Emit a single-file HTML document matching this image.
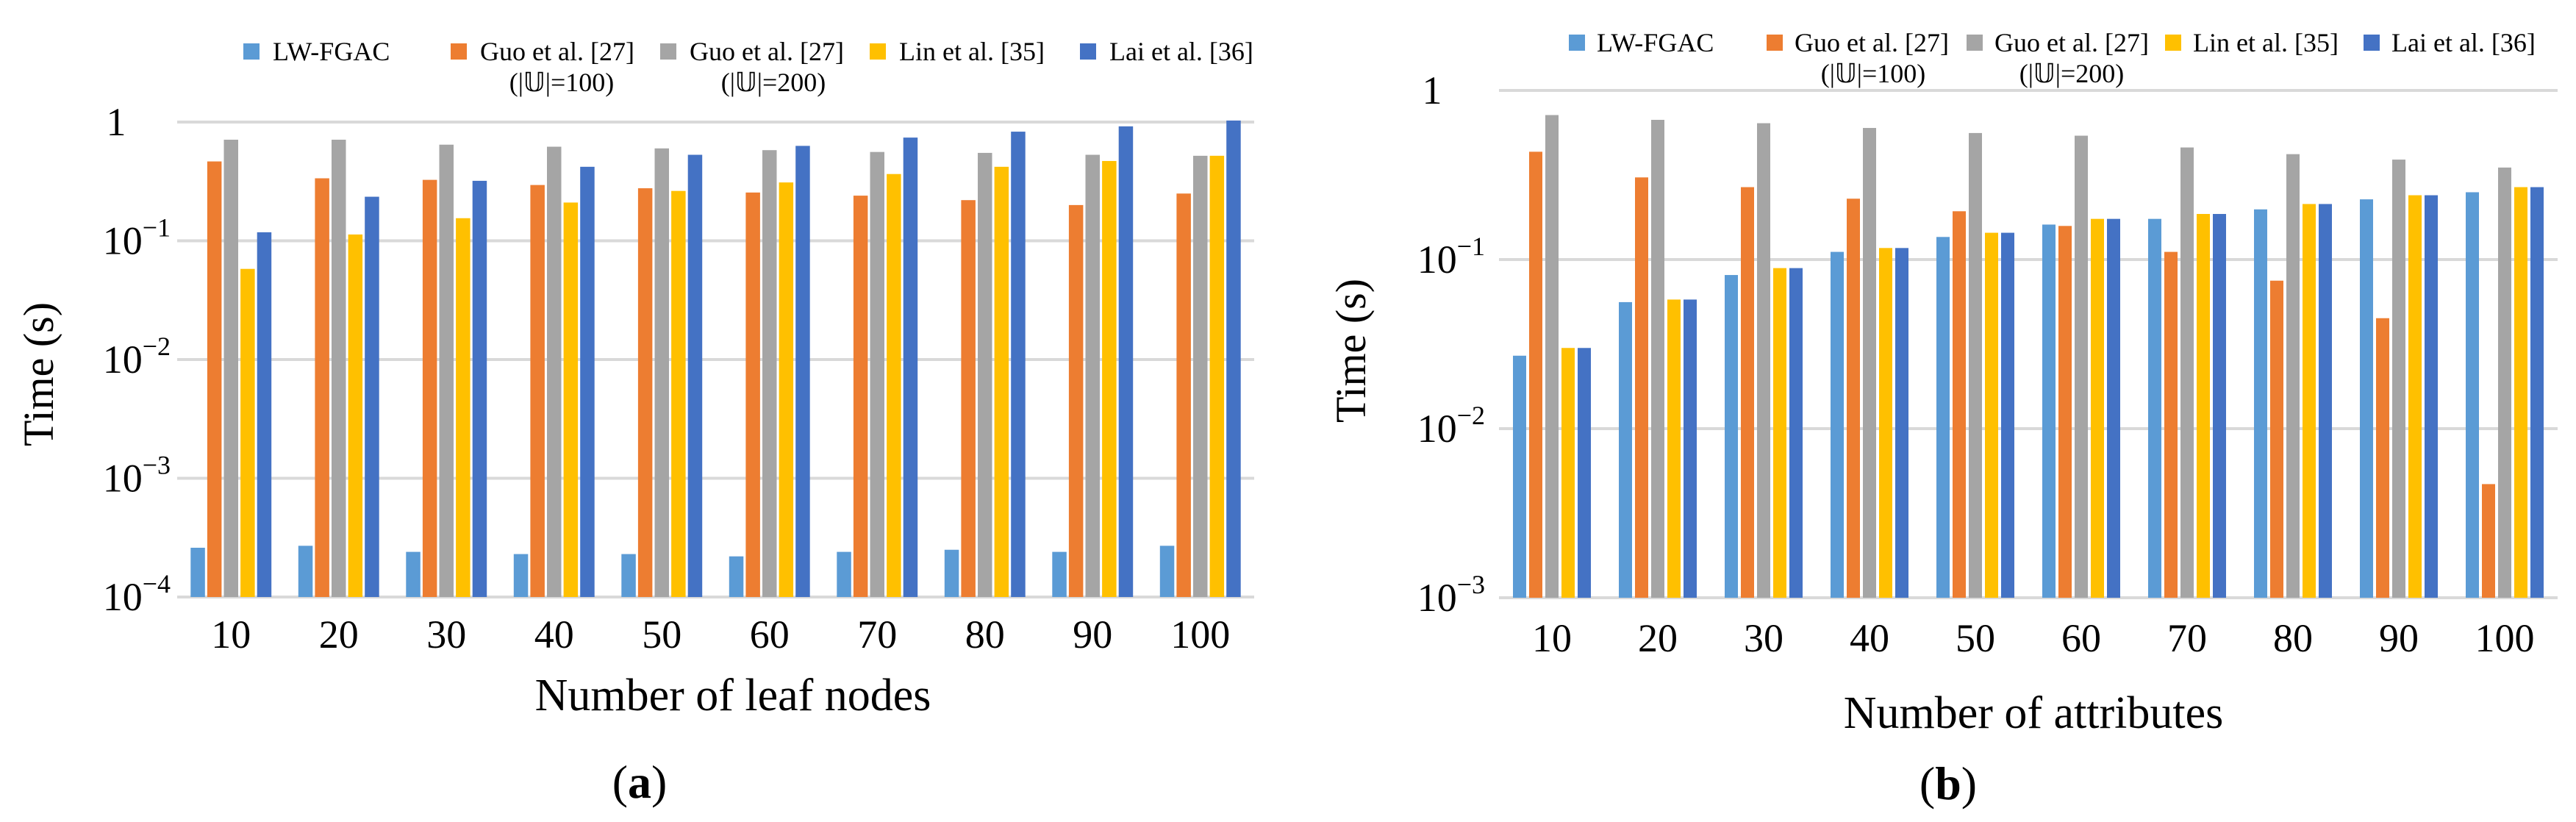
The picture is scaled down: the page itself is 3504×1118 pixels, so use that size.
<!DOCTYPE html>
<html><head><meta charset="utf-8">
<style>
html,body{margin:0;padding:0;background:#fff;}
svg{display:block;font-family:"Liberation Serif",serif;}
</style></head>
<body>
<svg id="svg" width="3504" height="1118" viewBox="0 0 3504 1118" xmlns="http://www.w3.org/2000/svg">
<g id="chartA"></g>
<g id="chartB"></g>
</svg>
<script>
const seriesNames = ["LW-FGAC","Guo et al. [27]","Guo et al. [27]","Lin et al. [35]","Lai et al. [36]"];
const seriesSub = ["","(|\u{1D54C}|=100)","(|\u{1D54C}|=200)","",""];
const colors = ["#5B9BD5","#ED7D31","#A5A5A5","#FFC000","#4472C4"];
const categories = ["10","20","30","40","50","60","70","80","90","100"];

const aLW   = [2.6e-4,2.7e-4,2.4e-4,2.3e-4,2.3e-4,2.2e-4,2.4e-4,2.5e-4,2.4e-4,2.7e-4];
const aGuo1 = [0.466,0.336,0.326,0.295,0.277,0.255,0.24,0.22,0.2,0.25];
const aGuo2 = [0.71,0.71,0.645,0.62,0.6,0.58,0.56,0.55,0.53,0.52];
const aLin  = [0.058,0.113,0.155,0.21,0.263,0.31,0.365,0.42,0.47,0.52];
const aLai  = [0.118,0.235,0.32,0.42,0.53,0.63,0.74,0.83,0.92,1.03];
const aTicks = [0,-1,-2,-3,-4];

const bLW   = [0.027,0.056,0.081,0.111,0.136,0.161,0.174,0.198,0.227,0.25];
const bGuo1 = [0.434,0.306,0.268,0.229,0.193,0.158,0.111,0.075,0.045,0.0047];
const bGuo2 = [0.715,0.67,0.64,0.60,0.56,0.54,0.46,0.42,0.39,0.35];
const bLin  = [0.030,0.058,0.089,0.117,0.144,0.174,0.186,0.213,0.24,0.268];
const bLai  = [0.030,0.058,0.089,0.117,0.144,0.174,0.186,0.213,0.24,0.268];
const bTicks = [0,-1,-2,-3];

const NS = "http://www.w3.org/2000/svg";
function mk(tag, attrs, parent){
  const e = document.createElementNS(NS, tag);
  for (const k in attrs) e.setAttribute(k, attrs[k]);
  parent.appendChild(e);
  return e;
}

function drawChart(g, cfg){
  const series = cfg.series;
  const minExp = cfg.minExp, maxExp = 0;
  const yScale = v => cfg.yBottom - (Math.log10(v) - minExp) / (maxExp - minExp) * (cfg.yBottom - cfg.yTop);
  const band = (cfg.xRight - cfg.xLeft) / categories.length;
  const xCenter = i => cfg.xLeft + band * (i + 0.5);

  // gridlines & tick labels
  cfg.ticks.forEach(t => {
    const y = yScale(Math.pow(10, t));
    const gl = mk("line", {x1: cfg.xLeft, x2: cfg.xRight, y1: y, y2: y, stroke: "#D9D9D9", "stroke-width": 4}, g);
    
    
    const tx = mk("text", {y: y + 18, "font-size": 54, fill: "#000"}, g);
    
    
    if (t === 0) {
      tx.setAttribute("x", cfg.oneX);
      tx.setAttribute("text-anchor", "middle");
      tx.textContent = "1";
    } else {
      tx.setAttribute("x", cfg.tickRight);
      tx.setAttribute("text-anchor", "end");
      const s1 = mk("tspan", {}, tx); s1.textContent = "10";
      const s2 = mk("tspan", {dy: -24, "font-size": 36}, tx); s2.textContent = "\u2212" + (-t);
    }
  });

  // bars
  series.forEach((vals, s) => {
    vals.forEach((v, i) => {
      const x = xCenter(i) - cfg.groupW / 2 + s * cfg.step;
      const y = yScale(v);
      const r = mk("rect", {x: x, y: y, width: cfg.barW, height: cfg.yBottom - y, fill: colors[s]}, g);
      
      
    });
  });

  // x tick labels
  categories.forEach((c, i) => {
    const t = mk("text", {x: xCenter(i), y: cfg.xLabelY, "font-size": 54, "text-anchor": "middle"}, g);
    
    
    t.textContent = c;
  });

  // axis titles
  const yt = mk("text", {x: 0, y: 0, "font-size": 58, "text-anchor": "middle", transform: `translate(${cfg.yTitleX},${cfg.yTitleY}) rotate(-90)`}, g);
  
  
  yt.setAttribute("xml:space", "preserve");
  yt.textContent = "Time  (s)";

  const xt = mk("text", {x: cfg.xTitleX, y: cfg.xTitleY, "font-size": 62, "text-anchor": "middle"}, g);
  
  
  xt.textContent = cfg.xTitle;

  const cap = mk("text", {x: cfg.capX, y: cfg.capY, "font-size": 64, "text-anchor": "middle"}, g);
  
  
  const c1 = mk("tspan", {}, cap); c1.textContent = "(";
  const c2 = mk("tspan", {"font-weight": "bold"}, cap); c2.textContent = cfg.capLetter;
  const c3 = mk("tspan", {}, cap); c3.textContent = ")";

  // legend
  cfg.legendX.forEach((lx, s) => {
    const lg = mk("g", {}, g);
    
    
    const sw = mk("rect", {x: lx, y: cfg.legY - 23, width: 22, height: 22, fill: colors[s]}, lg);
    
    
    const lt = mk("text", {x: lx + cfg.legGap, y: cfg.legY, "font-size": 36}, lg);
    
    
    lt.textContent = seriesNames[s];
    if (seriesSub[s]) {
      const st = mk("text", {x: cfg.subX[s], y: cfg.legY + 42, "font-size": 36, "text-anchor": "middle"}, lg);
      
      
      st.textContent = seriesSub[s];
    }
  });
}

drawChart(document.getElementById("chartA"), {
  series: [aLW, aGuo1, aGuo2, aLin, aLai], ticks: aTicks, minExp: -4,
  yTop: 166, yBottom: 812, xLeft: 241, xRight: 1706,
  barW: 19.5, step: 22.6, groupW: 19.5 + 4 * 22.6,
  tickRight: 232, oneX: 158, xLabelY: 881,
  yTitleX: 72, yTitleY: 509, xTitleX: 997, xTitleY: 966, xTitle: "Number of leaf nodes",
  capX: 870, capY: 1085, capLetter: "a",
  legendX: [331, 613, 898, 1183, 1469], legGap: 40, legY: 82, subX: [0, 764, 1052, 0, 0]
});

drawChart(document.getElementById("chartB"), {
  series: [bLW, bGuo1, bGuo2, bLin, bLai], ticks: bTicks, minExp: -3,
  yTop: 123, yBottom: 813, xLeft: 2039, xRight: 3479,
  barW: 18, step: 22, groupW: 18 + 4 * 22,
  tickRight: 2020, oneX: 1948, xLabelY: 886,
  yTitleX: 1857, yTitleY: 477, xTitleX: 2766, xTitleY: 990, xTitle: "Number of attributes",
  capX: 2650, capY: 1087, capLetter: "b",
  legendX: [2134, 2403, 2675, 2945, 3215], legGap: 38, legY: 70, subX: [0, 2548, 2818, 0, 0]
});
</script>
</body></html>
